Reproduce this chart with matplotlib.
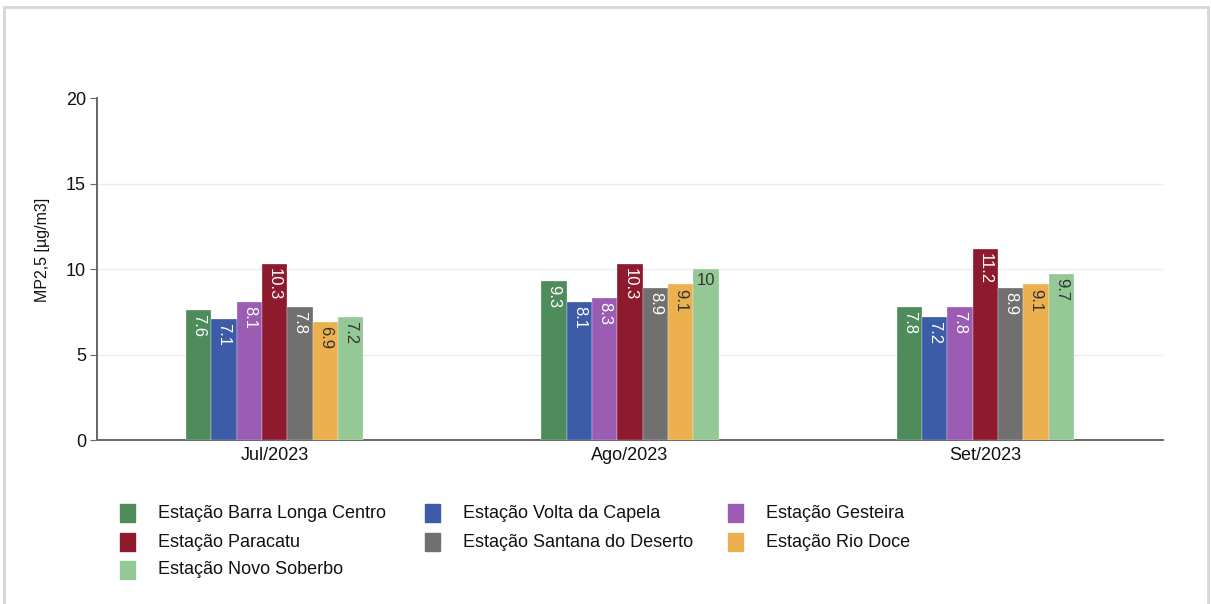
import matplotlib.pyplot as plt
import matplotlib.patches as mpatches
import numpy as np

plt.rcParams['font.family'] = ['Liberation Sans', 'DejaVu Sans']

# data
months = ['Jul/2023', 'Ago/2023', 'Set/2023']
stations = ['Estação Barra Longa Centro', 'Estação Volta da Capela', 'Estação Gesteira',
            'Estação Paracatu', 'Estação Santana do Deserto', 'Estação Rio Doce',
            'Estação Novo Soberbo']
barra_longa = [7.6, 9.3, 7.8]
volta_capela = [7.1, 8.1, 7.2]
gesteira = [8.1, 8.3, 7.8]
paracatu = [10.3, 10.3, 11.2]
santana = [7.8, 8.9, 8.9]
rio_doce = [6.9, 9.1, 9.1]
novo_soberbo = [7.2, 10.0, 9.7]
series = [barra_longa, volta_capela, gesteira, paracatu, santana, rio_doce, novo_soberbo]

colors = ['#4e8c5c', '#3c5ca8', '#9b5cb4', '#8e1a2e', '#707070', '#ecb04e', '#94c996']
label_colors = ['white', 'white', 'white', 'white', 'white', '#333333', '#333333']

fig = plt.figure(figsize=(12.11, 6.04), dpi=100)
ax = fig.add_axes([0.0801, 0.2715, 0.8803, 0.5662])

x = np.arange(len(months))
w = 0.0712
for i, vals in enumerate(series):
    pos = x + (i - 3) * w
    bars = ax.bar(pos, vals, width=w, color=colors[i], edgecolor='white', linewidth=0.2, zorder=3)
    for b, v in zip(bars, vals):
        txt = f'{v:g}'
        cx = b.get_x() + b.get_width() / 2
        rot = 0 if len(txt) <= 2 else 270
        ax.text(cx, v - 0.25, txt, rotation=rot, ha='center', va='top',
                fontsize=12, color=label_colors[i], zorder=4)

ax.set_xlim(-0.5, 2.5)
ax.set_ylim(0, 20)
ax.set_yticks([0, 5, 10, 15, 20])
ax.set_xticks(x)
ax.set_xticklabels(months)
for g in [5, 10, 15]:
    ax.axhline(g, color='#ececec', linewidth=1, zorder=1)
ax.set_ylabel('MP2,5 [µg/m3]', fontsize=11.5, color='#111111')
ax.yaxis.set_label_coords(-0.044, 0.556)
ax.tick_params(axis='y', length=5, color='#666666', labelsize=13, labelcolor='#111111', pad=3)
ax.tick_params(axis='x', length=0, labelsize=13, labelcolor='#111111', pad=5)
for s in ['top', 'right']:
    ax.spines[s].set_visible(False)
ax.spines['left'].set_color('#666666')
ax.spines['bottom'].set_color('#666666')
ax.spines['left'].set_linewidth(1.4)
ax.spines['bottom'].set_linewidth(1.4)

# legend drawn as a grid of squares and labels
col_x = [0.0991, 0.3509, 0.6012]
row_y = [0.1505, 0.1025, 0.0565]
for i, name in enumerate(stations):
    r, c = divmod(i, 3)
    fig.add_artist(mpatches.Rectangle((col_x[c], row_y[r] - 0.015), 0.0124, 0.030,
                                      transform=fig.transFigure, color=colors[i]))
    fig.text(col_x[c] + 0.0314, row_y[r], name, fontsize=13, color='#111111', va='center')

# outer frame
fig.add_artist(mpatches.Rectangle((0.0035, -0.01), 0.994, 0.998, transform=fig.transFigure,
                                  fill=False, edgecolor='#d6d6d6', linewidth=2))

fig.savefig('out.png', dpi=100)
